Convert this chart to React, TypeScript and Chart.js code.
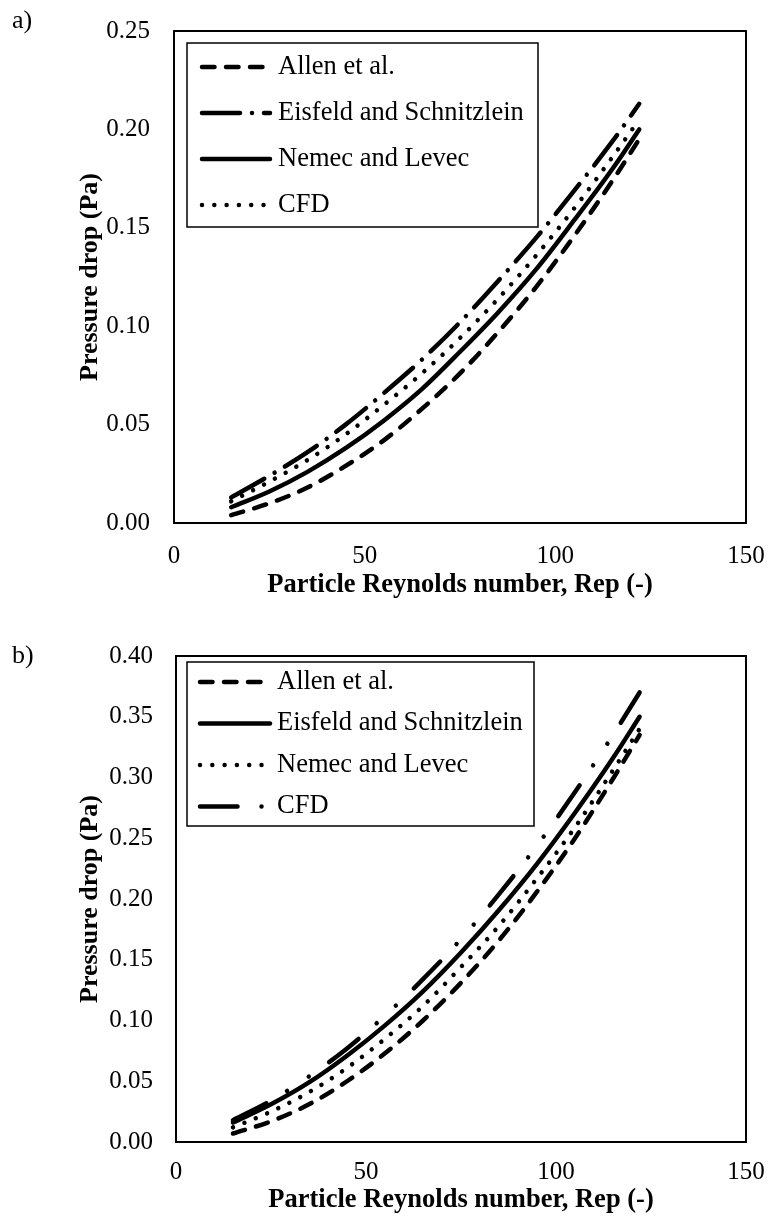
import React, { useEffect, useRef } from 'react';
import { Chart, registerables } from 'chart.js';

Chart.register(...registerables);

// ---------------- data ----------------
const reA = [15, 25, 35, 45, 55, 65, 75, 85, 95, 105, 115, 122];
const allenA = [0.004, 0.010, 0.018, 0.029, 0.042, 0.058, 0.076, 0.097, 0.120, 0.146, 0.174, 0.195];
const eisfeldA = [0.013, 0.024, 0.036, 0.050, 0.066, 0.083, 0.102, 0.123, 0.145, 0.169, 0.194, 0.213];
const nemecA = [0.008, 0.016, 0.026, 0.038, 0.052, 0.068, 0.087, 0.107, 0.129, 0.154, 0.180, 0.200];
const cfdA = [0.011, 0.021, 0.032, 0.045, 0.060, 0.076, 0.094, 0.114, 0.136, 0.160, 0.186, 0.205];
const labelsA = ['Allen et al.', 'Eisfeld and Schnitzlein', 'Nemec and Levec', 'CFD'];

const reB = [15, 25, 35, 45, 55, 65, 75, 85, 95, 105, 115, 122];
const allenB = [0.007, 0.017, 0.031, 0.050, 0.073, 0.100, 0.131, 0.166, 0.206, 0.250, 0.299, 0.335];
const eisfeldB = [0.016, 0.031, 0.049, 0.071, 0.096, 0.124, 0.156, 0.191, 0.229, 0.271, 0.316, 0.350];
const nemecB = [0.012, 0.025, 0.041, 0.061, 0.085, 0.112, 0.144, 0.178, 0.217, 0.259, 0.306, 0.340];
const cfdB = [0.018, 0.034, 0.054, 0.077, 0.104, 0.134, 0.167, 0.204, 0.244, 0.288, 0.335, 0.370];
const labelsB = ['Allen et al.', 'Eisfeld and Schnitzlein', 'Nemec and Levec', 'CFD'];

const xTickValues = [0, 50, 100, 150];
const yTickValuesA = [0, 0.05, 0.1, 0.15, 0.2, 0.25];
const yTickValuesB = [0, 0.05, 0.1, 0.15, 0.2, 0.25, 0.3, 0.35, 0.4];

const xTitle = 'Particle Reynolds number, Rep (-)';
const yTitle = 'Pressure drop (Pa)';

// ---------------- styles ----------------
const FONT = '"Liberation Serif", "Times New Roman", serif';
const DASH = [12.5, 11.5];
const LONG_DASH_DOT = [38, 12, 0.001, 12];
const LONG_DASH_DOT_DOT = [37.5, 24, 0.001, 26, 0.001, 25];
const SOLID: number[] = [];
const DOT = [0.001, 12.3];

const framePlugin = {
  id: 'frameLegend',
  afterDatasetsDraw(chart: any, _args: any, opts: any) {
    const { ctx, chartArea: a } = chart;
    ctx.save();
    ctx.setLineDash([]);
    ctx.strokeStyle = '#000';
    ctx.lineWidth = 2;
    ctx.strokeRect(a.left, a.top, a.right - a.left, a.bottom - a.top);
    const L = opts.box;
    if (L) {
      ctx.fillStyle = '#fff';
      ctx.fillRect(L.x, L.y, L.w, L.h);
      ctx.lineWidth = 1.5;
      ctx.strokeRect(L.x, L.y, L.w, L.h);
      chart.data.datasets.forEach((ds: any, i: number) => {
        const y = L.y + L.first + i * L.step;
        ctx.beginPath();
        ctx.setLineDash(ds.borderDash || []);
        ctx.lineCap = 'round';
        ctx.lineWidth = ds.borderWidth;
        ctx.strokeStyle = '#000';
        ctx.moveTo(L.lx1, y);
        ctx.lineTo(L.lx2, y);
        ctx.stroke();
        ctx.setLineDash([]);
        ctx.fillStyle = '#000';
        ctx.font = `26.5px ${FONT}`;
        ctx.textBaseline = 'middle';
        ctx.textAlign = 'left';
        ctx.fillText(ds.label, L.tx, y);
      });
    }
    ctx.restore();
  },
};

type Spec = {
  x: number[];
  series: number[][];
  labels: string[];
  dashes: number[][];
  yMax: number;
  yTicks: number[];
  padTop: number;
  yAxisWidth: number;
  xAxisHeight: number;
  yTickPad: number;
  xTickPad: number;
  xTitlePadBottom: number;
  yTitlePadTop: number;
  legend: any;
};

function build(canvas: HTMLCanvasElement, s: Spec) {
  const datasets = s.series.map((vals, i) => ({
    label: s.labels[i],
    data: s.x.map((x, j) => ({ x, y: vals[j] })),
    borderColor: '#000',
    backgroundColor: '#000',
    borderWidth: 4.5,
    borderDash: s.dashes[i],
    borderCapStyle: 'round',
    borderJoinStyle: 'round',
    pointRadius: 0,
    cubicInterpolationMode: 'monotone',
    fill: false,
  }));
  return new Chart(canvas, {
    type: 'line',
    data: { datasets } as any,
    plugins: [framePlugin],
    options: {
      responsive: false,
      animation: false,
      events: [],
      layout: { padding: { left: 0, top: s.padTop, right: 23, bottom: 0 } },
      plugins: {
        legend: { display: false },
        tooltip: { enabled: false },
        frameLegend: { box: s.legend },
      } as any,
      scales: {
        x: {
          type: 'linear',
          min: 0,
          max: 150,
          grid: { display: false, drawTicks: false, tickLength: 0 },
          border: { display: false },
          afterBuildTicks: (sc: any) => {
            sc.ticks = xTickValues.map((v) => ({ value: v }));
          },
          afterFit: (sc: any) => {
            sc.height = s.xAxisHeight;
            sc.paddingLeft = 0;
            sc.paddingRight = 0;
          },
          ticks: {
            color: '#000',
            padding: s.xTickPad,
            maxRotation: 0,
            font: { family: FONT, size: 25 },
            callback: (v: any) => String(v),
          },
          title: {
            display: true,
            text: xTitle,
            color: '#000',
            font: { family: FONT, size: 26.5, weight: 'bold' },
            padding: { top: 0, bottom: s.xTitlePadBottom },
          },
        },
        y: {
          type: 'linear',
          min: 0,
          max: s.yMax,
          grid: { display: false, drawTicks: false, tickLength: 0 },
          border: { display: false },
          afterBuildTicks: (sc: any) => {
            sc.ticks = s.yTicks.map((v) => ({ value: v }));
          },
          afterFit: (sc: any) => {
            sc.width = s.yAxisWidth;
            sc.paddingTop = 0;
            sc.paddingBottom = 0;
          },
          ticks: {
            color: '#000',
            padding: s.yTickPad,
            font: { family: FONT, size: 25 },
            callback: (v: any) => Number(v).toFixed(2),
          },
          title: {
            display: true,
            text: yTitle,
            color: '#000',
            font: { family: FONT, size: 26, weight: 'bold' },
            padding: { top: s.yTitlePadTop, bottom: 0 },
          },
        },
      },
    } as any,
  });
}

export default function App() {
  const refA = useRef<HTMLCanvasElement>(null);
  const refB = useRef<HTMLCanvasElement>(null);

  useEffect(() => {
    const a = build(refA.current!, {
      x: reA,
      series: [allenA, eisfeldA, nemecA, cfdA],
      labels: labelsA,
      dashes: [DASH, LONG_DASH_DOT, SOLID, DOT],
      yMax: 0.25,
      yTicks: yTickValuesA,
      padTop: 31,
      yAxisWidth: 174,
      xAxisHeight: 87,
      yTickPad: 24,
      xTickPad: 18,
      xTitlePadBottom: 9,
      yTitlePadTop: 75,
      legend: { x: 187, y: 43, w: 351, h: 184, first: 24, step: 46, lx1: 202, lx2: 270, tx: 278 },
    });
    const b = build(refB.current!, {
      x: reB,
      series: [allenB, eisfeldB, nemecB, cfdB],
      labels: labelsB,
      dashes: [DASH, SOLID, DOT, LONG_DASH_DOT_DOT],
      yMax: 0.4,
      yTicks: yTickValuesB,
      padTop: 46,
      yAxisWidth: 176,
      xAxisHeight: 79,
      yTickPad: 23,
      xTickPad: 15,
      xTitlePadBottom: 5,
      yTitlePadTop: 75,
      legend: { x: 187, y: 52, w: 347, h: 164, first: 20, step: 41.5, lx1: 200, lx2: 270, tx: 277 },
    });
    return () => {
      a.destroy();
      b.destroy();
    };
  }, []);

  const lbl: React.CSSProperties = {
    position: 'absolute',
    left: 12,
    fontFamily: FONT,
    fontSize: 26,
    lineHeight: 1,
    color: '#000',
  };

  return (
    <div style={{ position: 'absolute', left: 0, top: 0, width: 769, height: 1221, background: '#fff' }}>
      <canvas ref={refA} width={769} height={610} style={{ position: 'absolute', left: 0, top: 0, display: 'block' }} />
      <canvas ref={refB} width={769} height={611} style={{ position: 'absolute', left: 0, top: 610, display: 'block' }} />
      <div style={{ ...lbl, top: 7 }}>a)</div>
      <div style={{ ...lbl, top: 642 }}>b)</div>
    </div>
  );
}
